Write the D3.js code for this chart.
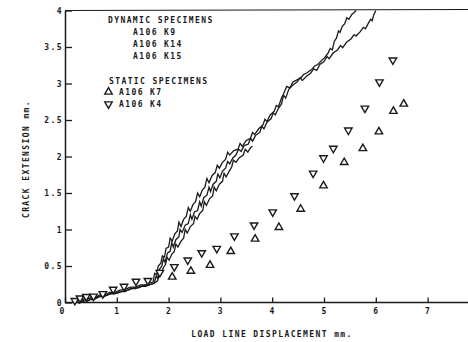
<!DOCTYPE html>
<html>
<head>
<meta charset="utf-8">
<script src="https://cdn.jsdelivr.net/npm/d3@7"></script>
<style>
  body { margin: 0; background: #fff; }
  svg text { font-family: "DejaVu Sans Mono", monospace; font-size: 8px; letter-spacing: 1.4px; fill: #1a1a1a; font-weight: bold; }
</style>
</head>
<body>
<svg id="chart" width="468" height="342"></svg>
<script>

// dynamic specimens, crack extension vs load line displacement (mm)
var k9 = [[0.16,0.02],[0.22,0.05],[0.27,0.02],[0.34,0.05],[0.42,0.04],[0.50,0.07],[0.58,0.06],[0.66,0.10],[0.76,0.10],[0.86,0.14],[0.96,0.14],[1.06,0.17],[1.16,0.18],[1.26,0.21],[1.36,0.21],[1.46,0.24],[1.56,0.24],[1.64,0.27],[1.70,0.28],[1.73,0.40],[1.77,0.38],[1.80,0.50],[1.85,0.54],[1.88,0.64],[1.92,0.62],[1.95,0.74],[2.00,0.76],[2.03,0.88],[2.07,0.84],[2.12,0.94],[2.17,0.98],[2.20,1.10],[2.24,1.04],[2.29,1.14],[2.34,1.18],[2.38,1.30],[2.42,1.25],[2.47,1.34],[2.52,1.38],[2.56,1.50],[2.60,1.45],[2.65,1.54],[2.70,1.58],[2.74,1.70],[2.78,1.64],[2.84,1.74],[2.90,1.78],[2.94,1.88],[2.98,1.84],[3.04,1.92],[3.10,1.96],[3.14,2.06],[3.18,2.02],[3.26,2.08],[3.34,2.10],[3.38,2.18],[3.42,2.14],[3.50,2.22],[3.58,2.25],[3.62,2.33],[3.66,2.30],[3.74,2.38],[3.82,2.43],[3.86,2.51],[3.90,2.48],[3.96,2.57],[4.04,2.62],[4.08,2.70],[4.12,2.68],[4.18,2.80],[4.22,2.86],[4.28,2.96],[4.34,2.94],[4.40,3.02],[4.48,3.05],[4.56,3.08],[4.60,3.12],[4.68,3.15],[4.76,3.19],[4.82,3.24],[4.88,3.26],[4.96,3.32],[5.02,3.36],[5.08,3.42],[5.12,3.48],[5.16,3.46],[5.20,3.58],[5.24,3.62],[5.28,3.72],[5.31,3.70],[5.35,3.78],[5.40,3.82],[5.44,3.90],[5.48,3.88],[5.54,3.95],[5.58,3.97],[5.62,4.00]];

var k14 = [[0.20,0.00],[0.25,0.03],[0.31,0.01],[0.38,0.04],[0.46,0.03],[0.54,0.07],[0.63,0.07],[0.72,0.10],[0.82,0.10],[0.92,0.13],[1.02,0.13],[1.12,0.16],[1.22,0.17],[1.32,0.20],[1.42,0.20],[1.52,0.23],[1.62,0.24],[1.72,0.26],[1.76,0.36],[1.79,0.33],[1.82,0.45],[1.87,0.50],[1.90,0.60],[1.93,0.55],[1.98,0.68],[2.03,0.70],[2.06,0.82],[2.09,0.76],[2.14,0.86],[2.20,0.90],[2.22,1.00],[2.26,0.96],[2.32,1.06],[2.38,1.08],[2.42,1.20],[2.45,1.14],[2.50,1.24],[2.56,1.26],[2.60,1.38],[2.63,1.32],[2.68,1.44],[2.74,1.47],[2.78,1.58],[2.81,1.52],[2.86,1.62],[2.92,1.66],[2.95,1.76],[2.99,1.71],[3.04,1.80],[3.10,1.84],[3.14,1.93],[3.18,1.90],[3.24,1.98],[3.30,2.02],[3.35,2.10],[3.40,2.07],[3.46,2.15],[3.54,2.17],[3.58,2.25],[3.62,2.21],[3.68,2.29],[3.76,2.33],[3.80,2.41],[3.84,2.38],[3.90,2.47],[3.98,2.52],[4.02,2.60],[4.06,2.57],[4.12,2.66],[4.18,2.72],[4.22,2.84],[4.26,2.80],[4.32,2.92],[4.40,2.98],[4.48,3.02],[4.54,3.08],[4.58,3.04],[4.66,3.10],[4.74,3.14],[4.80,3.20],[4.86,3.18],[4.92,3.26],[5.00,3.30],[5.06,3.37],[5.10,3.34],[5.18,3.42],[5.26,3.46],[5.32,3.52],[5.36,3.49],[5.44,3.57],[5.52,3.61],[5.58,3.67],[5.62,3.65],[5.70,3.71],[5.76,3.77],[5.80,3.75],[5.86,3.83],[5.90,3.88],[5.93,3.86],[5.96,3.94],[6.00,4.00]];

var k15 = [[0.22,0.01],[0.28,-0.01],[0.34,0.02],[0.40,0.00],[0.48,0.04],[0.56,0.04],[0.66,0.08],[0.76,0.08],[0.86,0.12],[0.96,0.12],[1.06,0.15],[1.16,0.15],[1.26,0.19],[1.36,0.19],[1.46,0.22],[1.56,0.22],[1.66,0.25],[1.74,0.27],[1.79,0.30],[1.82,0.42],[1.86,0.40],[1.90,0.48],[1.94,0.52],[1.97,0.62],[2.01,0.58],[2.06,0.66],[2.11,0.70],[2.14,0.80],[2.18,0.76],[2.24,0.84],[2.29,0.88],[2.32,1.00],[2.36,0.95],[2.42,1.04],[2.48,1.08],[2.51,1.18],[2.55,1.14],[2.60,1.22],[2.66,1.26],[2.69,1.38],[2.73,1.33],[2.79,1.42],[2.85,1.46],[2.88,1.58],[2.92,1.53],[2.98,1.62],[3.04,1.66],[3.07,1.77],[3.11,1.72],[3.17,1.80],[3.22,1.86],[3.25,1.95],[3.30,1.92],[3.36,1.98],[3.44,2.02],[3.48,2.10],[3.53,2.06],[3.58,2.12],[3.62,2.14]];

// static specimens
var k7 = [[2.07,0.35],[2.43,0.43],[2.80,0.51],[3.20,0.70],[3.67,0.87],[4.13,1.03],[4.55,1.28],[4.99,1.60],[5.39,1.92],[5.75,2.11],[6.06,2.34],[6.34,2.62],[6.54,2.72]];

var k4 = [[0.19,0.025],[0.29,0.06],[0.41,0.08],[0.55,0.085],[0.73,0.12],[0.93,0.18],[1.14,0.22],[1.37,0.29],[1.60,0.30],[1.83,0.41],[2.11,0.49],[2.37,0.58],[2.64,0.68],[2.93,0.74],[3.27,0.91],[3.65,1.06],[4.01,1.24],[4.43,1.46],[4.79,1.77],[4.99,1.98],[5.18,2.11],[5.47,2.36],[5.79,2.66],[6.07,3.02],[6.33,3.32]];

var xTicks = [0, 1, 2, 3, 4, 5, 6, 7];
var yTicks = [0, 0.5, 1, 1.5, 2, 2.5, 3, 3.5, 4];

var dynamicNames = ["A106 K9", "A106 K14", "A106 K15"];
var staticNames = ["A106 K7", "A106 K4"];

var svg = d3.select("#chart");
var ink = "#1a1a1a";

var x = d3.scaleLinear().domain([0, 7]).range([65, 427.6]);
var y = d3.scaleLinear().domain([0, 4]).range([302.5, 10.5]);

// frame lines (plot runs off the right edge)
svg.append("line").attr("x1", 65).attr("x2", 468).attr("y1", 302.5).attr("y2", 302.5)
    .attr("stroke", ink).attr("stroke-width", 1.5);
svg.append("line").attr("x1", 65).attr("x2", 468).attr("y1", 10.5).attr("y2", 9.5)
    .attr("stroke", ink).attr("stroke-width", 1.2);

var yAxis = svg.append("g")
    .attr("transform", "translate(65,0)")
    .call(d3.axisLeft(y).tickValues(yTicks).tickFormat(d3.format("~g"))
        .tickSizeInner(-7).tickSizeOuter(0).tickPadding(2));
yAxis.select(".domain").attr("stroke", ink).attr("stroke-width", 1.5);
yAxis.selectAll(".tick line").attr("stroke", ink).attr("stroke-width", 1.3);
yAxis.selectAll(".tick text").attr("font-family", null).attr("font-size", null).attr("fill", null);

var xAxis = svg.append("g")
    .attr("transform", "translate(0,302.5)")
    .call(d3.axisBottom(x).tickValues(xTicks).tickFormat(d3.format("d"))
        .tickSizeInner(-5).tickSizeOuter(0).tickPadding(6));
xAxis.select(".domain").remove();
xAxis.selectAll(".tick line").attr("stroke", ink).attr("stroke-width", 1.3);
xAxis.selectAll(".tick text").attr("font-family", null).attr("font-size", null).attr("fill", null)
    .attr("dx", function (d) { return d === 0 ? -3 : 0; });

// curves
var line = d3.line().x(function (d) { return x(d[0]); }).y(function (d) { return y(d[1]); });
[k9, k14, k15].forEach(function (c) {
    svg.append("path").datum(c).attr("d", line)
        .attr("fill", "none").attr("stroke", ink).attr("stroke-width", 1.3)
        .attr("stroke-linejoin", "miter");
});

// triangle markers
var up = d3.symbol().type(d3.symbolTriangle).size(24);
function mark(data, flip) {
    svg.append("g").selectAll("path").data(data).enter().append("path")
        .attr("d", up)
        .attr("transform", function (d) {
            return "translate(" + x(d[0]) + "," + y(d[1]) + ")" + (flip ? " rotate(180)" : "");
        })
        .attr("fill", "#fff").attr("stroke", ink).attr("stroke-width", 1.4);
}
mark(k7, false);
mark(k4, true);

// legend
svg.append("text").attr("x", 108).attr("y", 23).text("DYNAMIC SPECIMENS");
svg.selectAll(".dyn").data(dynamicNames).enter().append("text")
    .attr("x", 133).attr("y", function (d, i) { return 35 + i * 12; })
    .text(function (d) { return d; });
svg.append("text").attr("x", 109).attr("y", 83.5).text("STATIC SPECIMENS");
svg.selectAll(".sta").data(staticNames).enter().append("text")
    .attr("x", 119).attr("y", function (d, i) { return 95 + i * 12; })
    .text(function (d) { return d; });
svg.append("path").attr("d", up).attr("transform", "translate(108.5,92)")
    .attr("fill", "#fff").attr("stroke", ink).attr("stroke-width", 1.4);
svg.append("path").attr("d", up).attr("transform", "translate(108.5,104) rotate(180)")
    .attr("fill", "#fff").attr("stroke", ink).attr("stroke-width", 1.4);

// axis titles
svg.append("text").attr("x", 272).attr("y", 337).attr("text-anchor", "middle")
    .text("LOAD LINE DISPLACEMENT  mm.");
svg.append("text").attr("transform", "translate(29,159) rotate(-90)").attr("text-anchor", "middle")
    .text("CRACK EXTENSION  mm.");

</script>
</body>
</html>
